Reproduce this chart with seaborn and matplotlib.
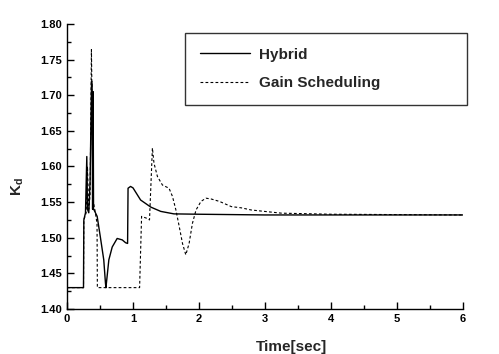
import matplotlib
matplotlib.use("Agg")
import matplotlib.pyplot as plt
from matplotlib.ticker import MultipleLocator
import seaborn as sns
import pandas as pd

# ---- data ----
t_hybrid = [0.0, 0.25, 0.255, 0.28, 0.30, 0.31, 0.33, 0.35, 0.372, 0.378, 0.388, 0.396, 0.402, 0.41,
            0.457, 0.507, 0.557, 0.583, 0.59, 0.634, 0.685, 0.76, 0.837, 0.888, 0.918, 0.925,
            0.963, 1.0, 1.115, 1.27, 1.42, 1.62, 2.0, 3.0, 6.0]
kd_hybrid = [1.43, 1.43, 1.525, 1.535, 1.614, 1.54, 1.535, 1.58, 1.72, 1.715, 1.54, 1.705, 1.54, 1.539,
             1.530, 1.500, 1.469, 1.436, 1.430, 1.469, 1.487, 1.499, 1.497, 1.493, 1.492, 1.5695,
             1.572, 1.570, 1.553, 1.543, 1.537, 1.5335, 1.533, 1.532, 1.532]

t_gain = [0.0, 0.25, 0.255, 0.29, 0.31, 0.33, 0.35, 0.37, 0.40, 0.43, 0.455, 0.46,
          1.09, 1.10, 1.13, 1.218, 1.25, 1.294, 1.318, 1.37, 1.446, 1.546, 1.598, 1.65,
          1.70, 1.75, 1.80, 1.85, 1.90, 1.955, 2.03, 2.105, 2.18, 2.31, 2.49, 2.64, 2.79,
          2.99, 3.25, 4.0, 6.0]
kd_gain = [1.43, 1.43, 1.525, 1.535, 1.60, 1.54, 1.56, 1.764, 1.55, 1.535, 1.52, 1.43,
           1.43, 1.43, 1.530, 1.527, 1.525, 1.626, 1.6046, 1.586, 1.574, 1.5695, 1.558, 1.539,
           1.516, 1.492, 1.476, 1.492, 1.520, 1.539, 1.551, 1.5555, 1.5545, 1.551, 1.5437, 1.542, 1.539,
           1.537, 1.5345, 1.533, 1.532]

series_names = ["Hybrid", "Gain Scheduling"]
x_ticks = [0, 1, 2, 3, 4, 5, 6]
y_ticks = [1.40, 1.45, 1.50, 1.55, 1.60, 1.65, 1.70, 1.75, 1.80]

sns.set_style("ticks")
plt.rcParams["font.family"] = ["Liberation Sans", "DejaVu Sans"]

fig = plt.figure(figsize=(4.99, 3.54), dpi=100)
ax = fig.add_axes([67 / 499, 45 / 354, 396 / 499, 285 / 354])

df_h = pd.DataFrame({"t": t_hybrid, "kd": kd_hybrid})
df_g = pd.DataFrame({"t": t_gain, "kd": kd_gain})

sns.lineplot(data=df_g, x="t", y="kd", estimator=None, sort=False, ax=ax,
             color="black", linewidth=0.8, linestyle=(0, (2.5, 2)), label=series_names[1])
sns.lineplot(data=df_h, x="t", y="kd", estimator=None, sort=False, ax=ax,
             color="black", linewidth=1.0, label=series_names[0])

ax.set_xlim(0, 6)
ax.set_ylim(1.40, 1.80)
ax.set_xticks(x_ticks)
ax.set_yticks(y_ticks)
ax.set_xticklabels([str(v) for v in x_ticks])
ax.set_yticklabels([f"{v:.2f}" for v in y_ticks])
ax.xaxis.set_minor_locator(MultipleLocator(0.5))
ax.yaxis.set_minor_locator(MultipleLocator(0.025))
ax.tick_params(which="both", direction="in", width=1.0, colors="black")
ax.tick_params(which="major", length=5, labelsize=8)
ax.tick_params(which="minor", length=3)
for lab in ax.get_xticklabels() + ax.get_yticklabels():
    lab.set_fontweight("bold")
sns.despine(ax=ax)
for s in ["left", "bottom"]:
    ax.spines[s].set_linewidth(1.0)
    ax.spines[s].set_color("black")

ax.set_xlabel("")
ax.set_ylabel("")
fig.text(292 / 499, 1 - 347 / 354, "Time[sec]", ha="center", va="center",
         fontsize=11, fontweight="bold")
fig.text(18 / 499, 1 - 187 / 354, r"K$_\mathregular{d}$", ha="center", va="center",
         rotation=90, fontsize=11, fontweight="bold")

handles, labels = ax.get_legend_handles_labels()
order = [labels.index(n) for n in series_names]
leg = ax.legend([handles[i] for i in order], [labels[i] for i in order],
                loc="upper left", bbox_to_anchor=(0.298, 0.968, 0.712, 0.0),
                mode="expand", frameon=True, fancybox=False, fontsize=11,
                borderpad=0.95, handlelength=3.3, handletextpad=0.6, labelspacing=0.95,
                borderaxespad=0.0)
leg.get_frame().set_edgecolor("black")
leg.get_frame().set_linewidth(1.0)
for txt in leg.get_texts():
    txt.set_fontweight("bold")

fig.savefig("out.png", dpi=100)
